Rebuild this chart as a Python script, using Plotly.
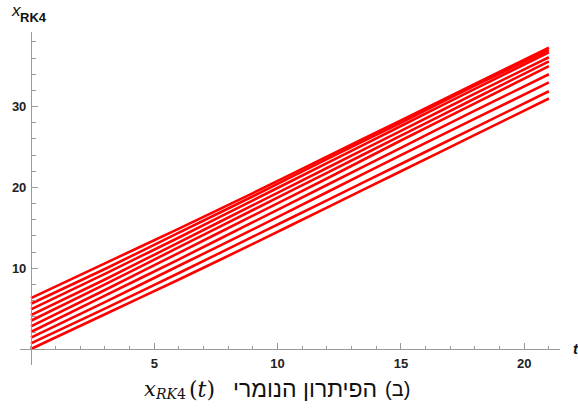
import plotly.graph_objects as go

# Sample times and the value of each numerical solution curve
t_vals = [0, 3, 6, 9, 12, 15, 18, 21]
curve_0 = [0.0, 4.3, 8.6, 13.0, 17.5, 22.0, 26.5, 31.0]
curve_1 = [0.7, 5.0, 9.4, 13.9, 18.4, 22.9, 27.4, 31.9]
curve_2 = [1.4, 5.8, 10.3, 14.8, 19.4, 24.0, 28.5, 33.0]
curve_3 = [2.1, 6.6, 11.1, 15.7, 20.3, 24.9, 29.5, 34.0]
curve_4 = [2.8, 7.3, 11.9, 16.5, 21.1, 25.8, 30.4, 35.0]
curve_5 = [3.5, 8.0, 12.6, 17.2, 21.8, 26.4, 31.0, 35.6]
curve_6 = [4.2, 8.6, 13.2, 17.8, 22.4, 27.0, 31.6, 36.1]
curve_7 = [4.9, 9.3, 13.8, 18.4, 23.0, 27.6, 32.2, 36.7]
curve_8 = [5.6, 9.9, 14.4, 18.9, 23.5, 28.0, 32.6, 37.0]
curve_9 = [6.3, 10.6, 14.9, 19.3, 23.8, 28.3, 32.8, 37.3]
curves = [curve_0, curve_1, curve_2, curve_3, curve_4,
          curve_5, curve_6, curve_7, curve_8, curve_9]

x_ticks = [5, 10, 15, 20]
y_ticks = [10, 20, 30]
x_range = [-0.444, 21.45]
y_range = [-1.98, 39.23]

W, H = 578, 412
ML, MR, MT, MB = 17, 18, 32, 47
PW, PH = W - ML - MR, H - MT - MB

fig = go.Figure()
for c in curves:
    fig.add_trace(go.Scatter(x=t_vals, y=c, mode="lines",
                             line=dict(color="#ff0000", width=2.6, shape="spline", smoothing=0.4),
                             hoverinfo="skip", showlegend=False))

axis_col = "#9a9a9a"
tick_font = dict(family="Liberation Sans", size=13, color="#222222", weight="bold")

xpos = (0 - y_range[0]) / (y_range[1] - y_range[0])
ypos = (0 - x_range[0]) / (x_range[1] - x_range[0])

fig.update_layout(
    width=W, height=H,
    margin=dict(l=ML, r=MR, t=MT, b=MB),
    paper_bgcolor="white", plot_bgcolor="white",
    xaxis=dict(range=x_range, anchor="free", position=xpos, showgrid=False, zeroline=False,
               showline=True, linecolor=axis_col, linewidth=1,
               tickmode="array", tickvals=x_ticks, ticks="inside", ticklen=6,
               tickcolor=axis_col, tickwidth=1, tickfont=tick_font,
               minor=dict(tickmode="linear", tick0=0, dtick=1, ticks="inside", ticklen=3.5,
                          tickcolor=axis_col, tickwidth=1),
               ticklabelstandoff=2),
    yaxis=dict(range=y_range, anchor="free", position=ypos, showgrid=False, zeroline=False,
               showline=True, linecolor=axis_col, linewidth=1,
               tickmode="array", tickvals=y_ticks, ticks="inside", ticklen=6,
               tickcolor=axis_col, tickwidth=1, tickfont=tick_font,
               minor=dict(tickmode="linear", tick0=0, dtick=2, ticks="inside", ticklen=4,
                          tickcolor=axis_col, tickwidth=1),
               ticklabelstandoff=2),
)


def px(xp):
    return (xp - ML) / PW


def py(yp):
    return 1 - (yp - MT) / PH


ann = []
# y-axis label x_RK4
ann.append(dict(x=px(6), y=py(11), xref="paper", yref="paper", xanchor="left", yanchor="middle",
                text="<i>x</i>", showarrow=False,
                font=dict(family="Liberation Sans", size=17, color="#111111")))
ann.append(dict(x=px(15), y=py(17), xref="paper", yref="paper", xanchor="left", yanchor="middle",
                text="<b>RK4</b>", showarrow=False,
                font=dict(family="Liberation Sans", size=13, color="#111111")))
# x-axis label t
ann.append(dict(x=px(571), y=py(348), xref="paper", yref="paper", xanchor="left", yanchor="middle",
                text="<b><i>t</i></b>", showarrow=False,
                font=dict(family="Liberation Sans", size=15, color="#111111")))
# caption
ann.append(dict(x=px(140), y=py(389), xref="paper", yref="paper", xanchor="left", yanchor="middle",
                text="<i>x</i>", showarrow=False,
                font=dict(family="DejaVu Serif", size=21, color="#111111")))
ann.append(dict(x=px(151), y=py(394), xref="paper", yref="paper", xanchor="left", yanchor="middle",
                text="<i>RK</i>4", showarrow=False,
                font=dict(family="DejaVu Serif", size=14, color="#111111")))
ann.append(dict(x=px(185), y=py(389), xref="paper", yref="paper", xanchor="left", yanchor="middle",
                text="(<i>t</i>)", showarrow=False,
                font=dict(family="DejaVu Serif", size=22, color="#111111")))
ann.append(dict(x=px(378), y=py(389), xref="paper", yref="paper", xanchor="right", yanchor="middle",
                text="הפיתרון הנומרי", showarrow=False,
                font=dict(family="Liberation Sans", size=23, color="#111111")))
ann.append(dict(x=px(382), y=py(389), xref="paper", yref="paper", xanchor="left", yanchor="middle",
                text="(ב)", showarrow=False,
                font=dict(family="Liberation Sans", size=20, color="#111111")))
fig.update_layout(annotations=ann)

fig.write_html("out.html")
